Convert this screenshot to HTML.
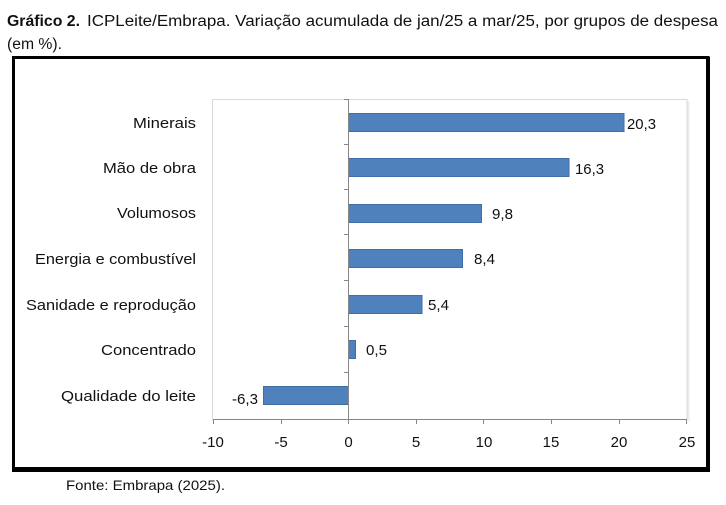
<!DOCTYPE html>
<html>
<head>
<meta charset="utf-8">
<style>
html,body{margin:0;padding:0;background:#fff;}
body{width:726px;height:505px;overflow:hidden;position:relative;}
svg{position:absolute;left:0;top:0;}
text{font-family:"Liberation Sans",Arial,sans-serif;fill:#111;}
</style>
</head>
<body>
<svg width="726" height="505" viewBox="0 0 726 505" xmlns="http://www.w3.org/2000/svg">
  <rect x="0" y="0" width="726" height="505" fill="#fff"/>
  <!-- Title -->
  <text x="7" y="26" font-size="15.5" font-weight="bold" textLength="73" lengthAdjust="spacingAndGlyphs">Gráfico 2.</text>
  <text x="87" y="26" font-size="15.5" textLength="631" lengthAdjust="spacingAndGlyphs">ICPLeite/Embrapa. Variação acumulada de jan/25 a mar/25, por grupos de despesa</text>
  <text x="7" y="49" font-size="15.5" textLength="55" lengthAdjust="spacingAndGlyphs">(em %).</text>

  <!-- Outer frame -->
  <rect x="13.5" y="57.5" width="694.5" height="411.5" fill="none" stroke="#000" stroke-width="3"/>
  <rect x="706" y="57" width="4" height="415" fill="#000"/>
  <rect x="12" y="467" width="698" height="5" fill="#000"/>

  <!-- Plot area border -->
  <rect x="212.5" y="99.5" width="474.5" height="320" fill="none" stroke="#d9d9d9" stroke-width="1"/>
  <line x1="688.5" y1="101" x2="688.5" y2="421" stroke="#eeeeee" stroke-width="2"/>

  <!-- Bars -->
  <g fill="#4f81bd" stroke="#3f6ea6" stroke-width="1">
    <rect x="348.5" y="113.5" width="275.5" height="18"/>
    <rect x="348.5" y="158.5" width="220.5" height="18"/>
    <rect x="348.5" y="204.5" width="133" height="18"/>
    <rect x="348.5" y="249.5" width="114" height="18"/>
    <rect x="348.5" y="295.5" width="73.5" height="18"/>
    <rect x="348.5" y="340.5" width="7" height="18"/>
    <rect x="263.5" y="386.5" width="85" height="18"/>
  </g>

  <!-- Y axis -->
  <g stroke="#868686" stroke-width="1">
    <line x1="348.5" y1="99" x2="348.5" y2="420"/>
    <line x1="344" y1="99.5" x2="348.5" y2="99.5"/>
    <line x1="344" y1="144.5" x2="348.5" y2="144.5"/>
    <line x1="344" y1="189.5" x2="348.5" y2="189.5"/>
    <line x1="344" y1="234.5" x2="348.5" y2="234.5"/>
    <line x1="344" y1="280.5" x2="348.5" y2="280.5"/>
    <line x1="344" y1="326.5" x2="348.5" y2="326.5"/>
    <line x1="344" y1="372.5" x2="348.5" y2="372.5"/>
  </g>

  <!-- X axis -->
  <g stroke="#868686" stroke-width="1">
    <line x1="213" y1="419.5" x2="687" y2="419.5"/>
    <line x1="213.5" y1="419" x2="213.5" y2="424"/>
    <line x1="281.5" y1="419" x2="281.5" y2="424"/>
    <line x1="348.5" y1="419" x2="348.5" y2="424"/>
    <line x1="416.5" y1="419" x2="416.5" y2="424"/>
    <line x1="483.5" y1="419" x2="483.5" y2="424"/>
    <line x1="551.5" y1="419" x2="551.5" y2="424"/>
    <line x1="619.5" y1="419" x2="619.5" y2="424"/>
    <line x1="686.5" y1="419" x2="686.5" y2="424"/>
  </g>
  <g font-size="15" text-anchor="middle">
    <text x="213" y="447">-10</text>
    <text x="281" y="447">-5</text>
    <text x="348.5" y="447">0</text>
    <text x="416" y="447">5</text>
    <text x="484" y="447">10</text>
    <text x="551" y="447">15</text>
    <text x="619" y="447">20</text>
    <text x="687" y="447">25</text>
  </g>

  <!-- Category labels -->
  <g font-size="15">
    <text x="133" y="128" textLength="63" lengthAdjust="spacingAndGlyphs">Minerais</text>
    <text x="103" y="173" textLength="93" lengthAdjust="spacingAndGlyphs">Mão de obra</text>
    <text x="117" y="218" textLength="79" lengthAdjust="spacingAndGlyphs">Volumosos</text>
    <text x="35" y="264" textLength="161" lengthAdjust="spacingAndGlyphs">Energia e combustível</text>
    <text x="26" y="310" textLength="170" lengthAdjust="spacingAndGlyphs">Sanidade e reprodução</text>
    <text x="101" y="355" textLength="95" lengthAdjust="spacingAndGlyphs">Concentrado</text>
    <text x="61" y="401" textLength="135" lengthAdjust="spacingAndGlyphs">Qualidade do leite</text>
  </g>

  <!-- Value labels -->
  <g font-size="15">
    <text x="627" y="129" textLength="29" lengthAdjust="spacingAndGlyphs">20,3</text>
    <text x="575" y="174" textLength="29" lengthAdjust="spacingAndGlyphs">16,3</text>
    <text x="492" y="219" textLength="21" lengthAdjust="spacingAndGlyphs">9,8</text>
    <text x="474" y="264" textLength="21" lengthAdjust="spacingAndGlyphs">8,4</text>
    <text x="428" y="310" textLength="21" lengthAdjust="spacingAndGlyphs">5,4</text>
    <text x="366" y="355" textLength="21" lengthAdjust="spacingAndGlyphs">0,5</text>
    <text x="232" y="404" textLength="26" lengthAdjust="spacingAndGlyphs">-6,3</text>
  </g>

  <!-- Footer -->
  <text x="66" y="490" font-size="14" textLength="159" lengthAdjust="spacingAndGlyphs">Fonte: Embrapa (2025).</text>
</svg>
</body>
</html>
